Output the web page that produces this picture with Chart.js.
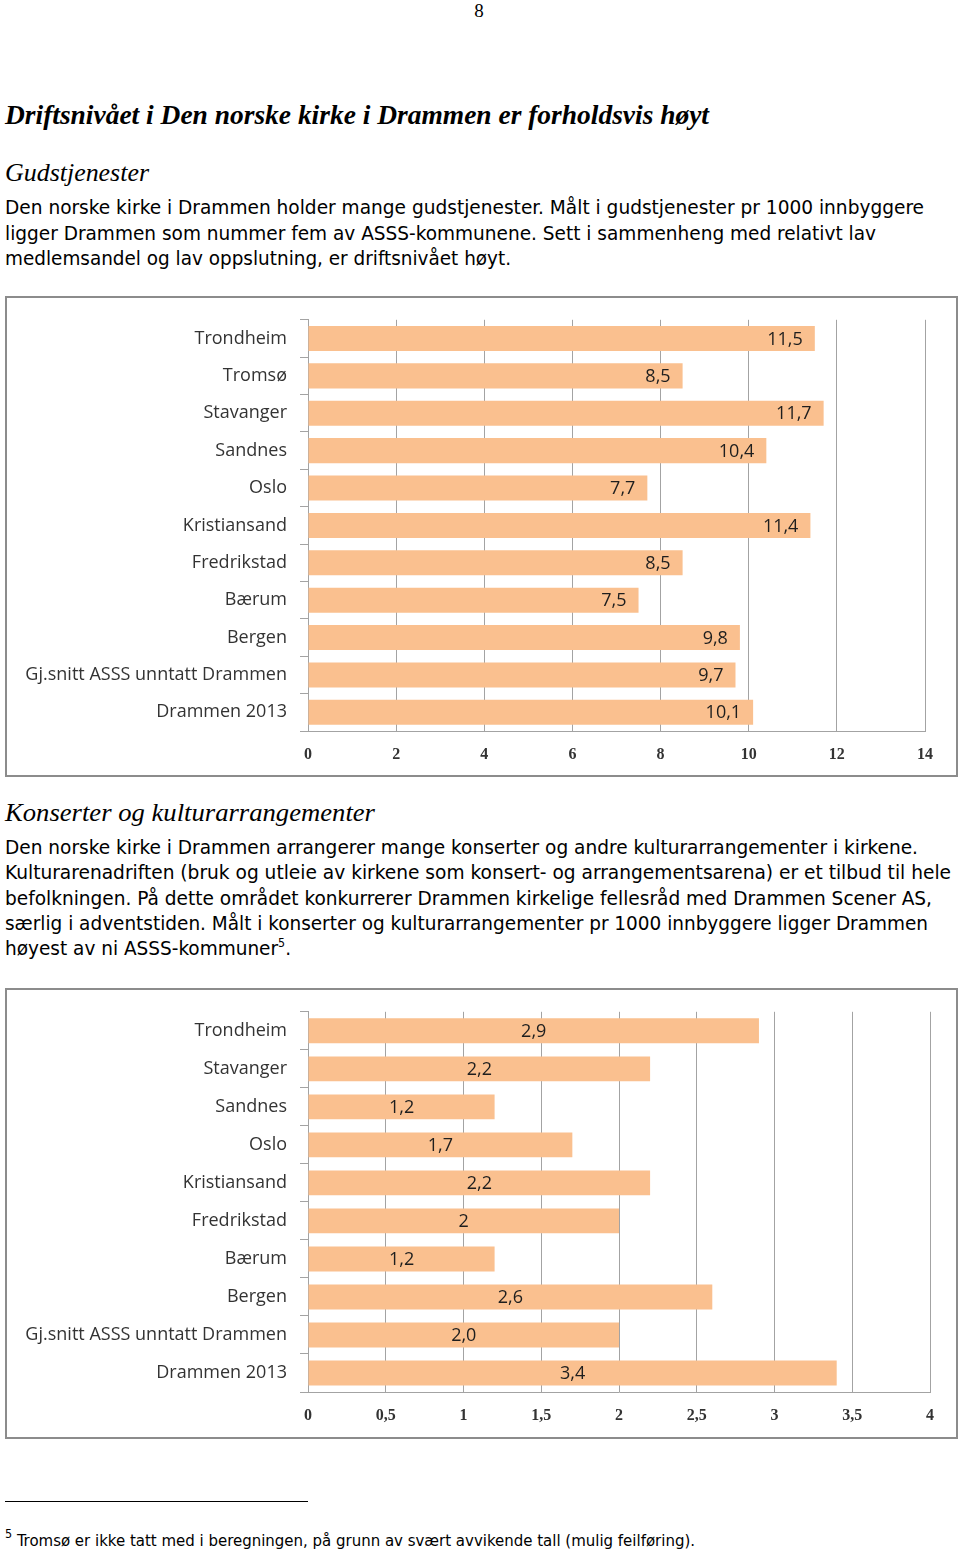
<!DOCTYPE html>
<html lang="no">
<head>
<meta charset="utf-8">
<title>Driftsnivået i Den norske kirke i Drammen</title>
<script src="https://cdn.jsdelivr.net/npm/chart.js@4.4.1/dist/chart.umd.min.js"></script>
<style>
    html, body { margin: 0; padding: 0; background: #fff; }
    body { width: 960px; height: 1554px; position: relative; overflow: hidden; color: #000; }

    .t { position: absolute; left: 5px; white-space: nowrap; transform-origin: 0 50%; }
    .body { font-family: "DejaVu Sans Condensed", "DejaVu Sans", sans-serif; font-size: 20px; height: 26px; line-height: 26px; }
    .h1 { font-family: "Liberation Serif", serif; font-style: italic; font-weight: bold; font-size: 27px; height: 34px; line-height: 34px; }
    .h2 { font-family: "Liberation Serif", serif; font-style: italic; font-size: 25px; height: 32px; line-height: 32px; }
    .foot { font-family: "DejaVu Sans Condensed", "DejaVu Sans", sans-serif; font-size: 16px; height: 22px; line-height: 22px; }
    sup { font-size: 12px; line-height: 0; vertical-align: 8px; }

    .pageno { position: absolute; top: 0; left: 0; width: 958px; text-align: center;
              font-family: "Liberation Serif", serif; font-size: 19px; line-height: 22px; }

    .box { position: absolute; left: 5px; width: 953px; border: 2px solid #8c8c8c; box-sizing: border-box; }
    .wrap { position: absolute; left: 0; width: 960px; }
    .rule { position: absolute; left: 5px; top: 1501px; width: 303px; height: 1px; background: #000; }
</style>
</head>
<body>

<div class="pageno">8</div>

<div class="t h1" style="top:98px" data-w="704">Driftsnivået i Den norske kirke i Drammen er forholdsvis høyt</div>
<div class="t h2" style="top:157px" data-w="144">Gudstjenester</div>

<div class="t body" style="top:194px" data-w="919">Den norske kirke i Drammen holder mange gudstjenester. Målt i gudstjenester pr 1000 innbyggere</div>
<div class="t body" style="top:220px" data-w="871">ligger Drammen som nummer fem av ASSS-kommunene. Sett i sammenheng med relativt lav</div>
<div class="t body" style="top:245px" data-w="506">medlemsandel og lav oppslutning, er driftsnivået høyt.</div>

<div class="box" style="top:296px;height:481px"></div>
<div class="wrap" style="top:296px;height:480px"><canvas id="gudsChart"></canvas></div>

<div class="t h2" style="top:797px" data-w="370">Konserter og kulturarrangementer</div>

<div class="t body" style="top:834px" data-w="913">Den norske kirke i Drammen arrangerer mange konserter og andre kulturarrangementer i kirkene.</div>
<div class="t body" style="top:859px" data-w="946">Kulturarenadriften (bruk og utleie av kirkene som konsert- og arrangementsarena) er et tilbud til hele</div>
<div class="t body" style="top:885px" data-w="927">befolkningen. På dette området konkurrerer Drammen kirkelige fellesråd med Drammen Scener AS,</div>
<div class="t body" style="top:910px" data-w="923">særlig i adventstiden. Målt i konserter og kulturarrangementer pr 1000 innbyggere ligger Drammen</div>
<div class="t body" style="top:935px" data-w="286">høyest av ni ASSS-kommuner<sup>5</sup>.</div>

<div class="box" style="top:988px;height:451px"></div>
<div class="wrap" style="top:988px;height:450px"><canvas id="konsertChart"></canvas></div>

<div class="rule"></div>
<div class="t foot" style="top:1530px" data-w="690"><sup>5</sup> Tromsø er ikke tatt med i beregningen, på grunn av svært avvikende tall (mulig feilføring).</div>

<script>
/* ---------- DATA ---------- */
const gudsCategories = [
    "Trondheim", "Tromsø", "Stavanger", "Sandnes", "Oslo", "Kristiansand",
    "Fredrikstad", "Bærum", "Bergen", "Gj.snitt ASSS unntatt Drammen", "Drammen 2013"
];
const gudsValues = [11.5, 8.5, 11.7, 10.4, 7.7, 11.4, 8.5, 7.5, 9.8, 9.7, 10.1];
const gudsLabels = ["11,5", "8,5", "11,7", "10,4", "7,7", "11,4", "8,5", "7,5", "9,8", "9,7", "10,1"];
const gudsTicks  = ["0", "2", "4", "6", "8", "10", "12", "14"];

const konsCategories = [
    "Trondheim", "Stavanger", "Sandnes", "Oslo", "Kristiansand",
    "Fredrikstad", "Bærum", "Bergen", "Gj.snitt ASSS unntatt Drammen", "Drammen 2013"
];
const konsValues = [2.9, 2.2, 1.2, 1.7, 2.2, 2.0, 1.2, 2.6, 2.0, 3.4];
const konsLabels = ["2,9", "2,2", "1,2", "1,7", "2,2", "2", "1,2", "2,6", "2,0", "3,4"];
const konsTicks  = ["0", "0,5", "1", "1,5", "2", "2,5", "3", "3,5", "4"];

/* ---------- STYLE ---------- */
const BAR_COLOR  = "#FAC08F";
const GRID_COLOR = "#a3a3a3";
const CAT_FONT   = { family: "'Open Sans', Lato, sans-serif", size: 18 };
const TICK_FONT  = { family: "'Liberation Serif', serif", size: 16, weight: "bold" };

/* ---------- value labels on the bars ---------- */
const barLabels = {
    id: "barLabels",
    afterDatasetsDraw(chart, args, opts) {
        const ctx = chart.ctx;
        const meta = chart.getDatasetMeta(0);
        ctx.save();
        ctx.font = "18px 'Open Sans', Lato, sans-serif";
        ctx.fillStyle = "#1e1e1e";
        ctx.textBaseline = "middle";
        meta.data.forEach((bar, i) => {
            const txt = opts.texts[i];
            if (opts.mode === "end") {
                ctx.textAlign = "right";
                ctx.fillText(txt, bar.x - 12, bar.y + 1);
            } else {
                ctx.textAlign = "center";
                ctx.fillText(txt, (bar.x + bar.base) / 2, bar.y + 1);
            }
        });
        ctx.restore();
    }
};

function makeChart(canvasId, cats, values, texts, ticks, max, step, mode, pad, catPct) {
    return new Chart(document.getElementById(canvasId), {
        type: "bar",
        data: {
            labels: cats,
            datasets: [{
                data: values,
                backgroundColor: BAR_COLOR,
                borderWidth: 0,
                barPercentage: 1,
                categoryPercentage: catPct
            }]
        },
        options: {
            indexAxis: "y",
            responsive: true,
            maintainAspectRatio: false,
            animation: false,
            layout: { padding: { top: pad.top, right: pad.right, left: 0, bottom: 0 } },
            scales: {
                x: {
                    min: 0,
                    max: max,
                    ticks: {
                        stepSize: step,
                        padding: 14,
                        color: "#333",
                        font: TICK_FONT,
                        callback: (v, i) => ticks[i]
                    },
                    grid: { color: GRID_COLOR, drawTicks: false },
                    border: { color: GRID_COLOR },
                    afterFit: (scale) => { scale.height = pad.bottom; }
                },
                y: {
                    ticks: { color: "#333", font: CAT_FONT, padding: 13 },
                    grid: { drawOnChartArea: false, color: GRID_COLOR, tickLength: 8 },
                    border: { color: GRID_COLOR },
                    afterFit: (scale) => { scale.width = 308; }
                }
            },
            plugins: {
                legend: { display: false },
                tooltip: { enabled: false },
                barLabels: { mode: mode, texts: texts }
            }
        },
        plugins: [barLabels]
    });
}

/* ---------- text lines squeezed to the page widths ---------- */
function fitLines() {
    document.querySelectorAll("[data-w]").forEach(el => {
        const w = el.getBoundingClientRect().width;
        const target = parseFloat(el.dataset.w);
        if (w > 0) el.style.transform = "scaleX(" + (target / w) + ")";
    });
}

document.fonts.ready.then(() => {
    fitLines();
    makeChart("gudsChart", gudsCategories, gudsValues, gudsLabels, gudsTicks,
        14, 2, "end", { top: 23, right: 35, bottom: 45 }, 0.67);
    makeChart("konsertChart", konsCategories, konsValues, konsLabels, konsTicks,
        4, 0.5, "center", { top: 22, right: 30, bottom: 46 }, 0.655);
});
</script>
</body>
</html>
